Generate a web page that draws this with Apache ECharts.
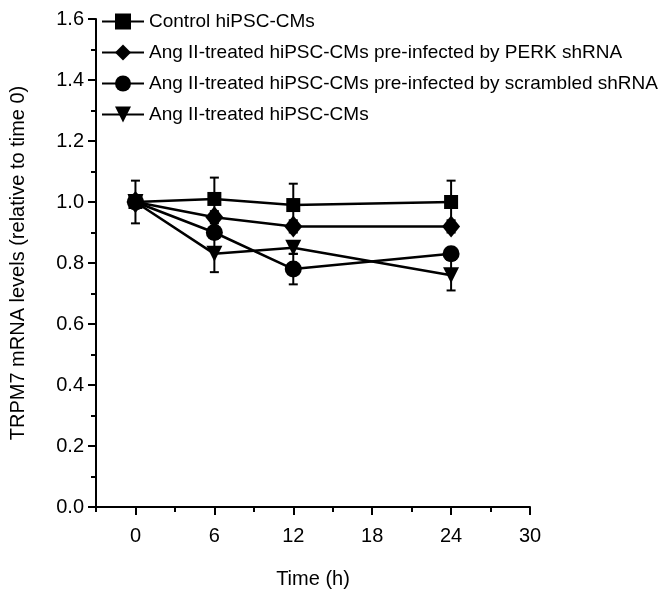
<!DOCTYPE html>
<html>
<head>
<meta charset="utf-8">
<script src="https://cdn.jsdelivr.net/npm/echarts@6/dist/echarts.min.js"></script>
<style>
  html, body { margin: 0; padding: 0; background: #fff; }
  #chart { width: 665px; height: 597px; }
</style>
</head>
<body>
<div id="chart"></div>
<script>
const FONT = "'Liberation Sans', Arial, sans-serif";

const times = [0, 6, 12, 24];
const xTicks = [0, 6, 12, 18, 24, 30];

const seriesNames = [
  "Control hiPSC-CMs",
  "Ang II-treated hiPSC-CMs pre-infected by PERK shRNA",
  "Ang II-treated hiPSC-CMs pre-infected by scrambled shRNA",
  "Ang II-treated hiPSC-CMs"
];

const controlVals = [1.00, 1.01, 0.99, 1.00];
const perkVals = [1.00, 0.95, 0.92, 0.92];
const scrambledVals = [1.00, 0.90, 0.78, 0.83];
const angVals = [1.00, 0.83, 0.85, 0.76];

// +/- error, read from the visible caps (hidden ones estimated small)
const controlErr = [0.07, 0.07, 0.07, 0.07];
const perkErr = [0.02, 0.02, 0.02, 0.02];
const scrambledErr = [0.02, 0.02, 0.05, 0.02];
const angErr = [0.02, 0.06, 0.02, 0.05];

const chart = echarts.init(document.getElementById("chart"));

const makeLine = (name, vals, symbol, size, rotate) => ({
  name: name,
  type: "line",
  data: times.map((t, i) => [t, vals[i]]),
  symbol: symbol,
  symbolSize: size,
  symbolRotate: rotate || 0,
  showAllSymbol: true,
  lineStyle: { color: "#000", width: 2.5 },
  itemStyle: { color: "#000", borderWidth: 0 },
  emphasis: { disabled: true },
  z: 3
});

const makeErr = (vals, errs) => ({
  type: "custom",
  data: times.map((t, i) => [t, vals[i] - errs[i], vals[i] + errs[i]]),
  renderItem: (params, api) => {
    const lo = api.coord([api.value(0), api.value(1)]);
    const hi = api.coord([api.value(0), api.value(2)]);
    const cap = 4.5;
    const style = { stroke: "#000", lineWidth: 2 };
    return {
      type: "group",
      children: [
        { type: "line", shape: { x1: lo[0], y1: lo[1], x2: hi[0], y2: hi[1] }, style: style },
        { type: "line", shape: { x1: lo[0] - cap, y1: lo[1], x2: lo[0] + cap, y2: lo[1] }, style: style },
        { type: "line", shape: { x1: hi[0] - cap, y1: hi[1], x2: hi[0] + cap, y2: hi[1] }, style: style }
      ]
    };
  },
  encode: { x: 0, y: [1, 2] },
  silent: true,
  z: 2
});

const option = {
  animation: false,
  backgroundColor: "#fff",
  grid: { left: 95, right: 135, top: 19, bottom: 90 },
  legend: {
    orient: "vertical",
    left: 96,
    top: 7,
    itemWidth: 42,
    itemHeight: 20,
    itemGap: 12,
    data: seriesNames,
    textStyle: { fontFamily: FONT, fontSize: 19, color: "#000" },
    inactiveColor: "#000"
  },
  xAxis: [
    {
      type: "value",
      min: -3,
      max: 30,
      axisLine: { show: true, onZero: false, lineStyle: { color: "#000", width: 2 } },
      axisTick: { show: true, customValues: xTicks, length: 8, lineStyle: { color: "#000", width: 2 } },
      axisLabel: { customValues: xTicks, fontFamily: FONT, fontSize: 20, color: "#000", margin: 19 },
      splitLine: { show: false },
      name: "Time (h)",
      nameLocation: "middle",
      nameGap: 62,
      nameTextStyle: { fontFamily: FONT, fontSize: 20, color: "#000" }
    },
    {
      type: "value",
      min: -3,
      max: 30,
      interval: 3,
      position: "bottom",
      axisLine: { show: false },
      axisTick: { show: true, length: 5, lineStyle: { color: "#000", width: 2 } },
      axisLabel: { show: false },
      splitLine: { show: false }
    }
  ],
  yAxis: {
    type: "value",
    min: 0,
    max: 1.6,
    interval: 0.2,
    axisLine: { show: true, onZero: false, lineStyle: { color: "#000", width: 2 } },
    axisTick: { show: true, length: 8, lineStyle: { color: "#000", width: 2 } },
    minorTick: { show: true, splitNumber: 2, length: 5, lineStyle: { color: "#000", width: 2 } },
    axisLabel: {
      fontFamily: FONT, fontSize: 20, color: "#000", margin: 12,
      formatter: (v) => v.toFixed(1)
    },
    splitLine: { show: false },
    name: "TRPM7 mRNA levels (relative to time 0)",
    nameLocation: "middle",
    nameGap: 68,
    nameTextStyle: { fontFamily: FONT, fontSize: 20, color: "#000" }
  },
  series: [
    makeErr(controlVals, controlErr),
    makeErr(perkVals, perkErr),
    makeErr(scrambledVals, scrambledErr),
    makeErr(angVals, angErr),
    makeLine(seriesNames[0], controlVals, "rect", 14),
    makeLine(seriesNames[1], perkVals, "diamond", [18, 22]),
    makeLine(seriesNames[2], scrambledVals, "circle", 17),
    makeLine(seriesNames[3], angVals, "triangle", [16, 16], 180)
  ]
};

chart.setOption(option);
</script>
</body>
</html>
